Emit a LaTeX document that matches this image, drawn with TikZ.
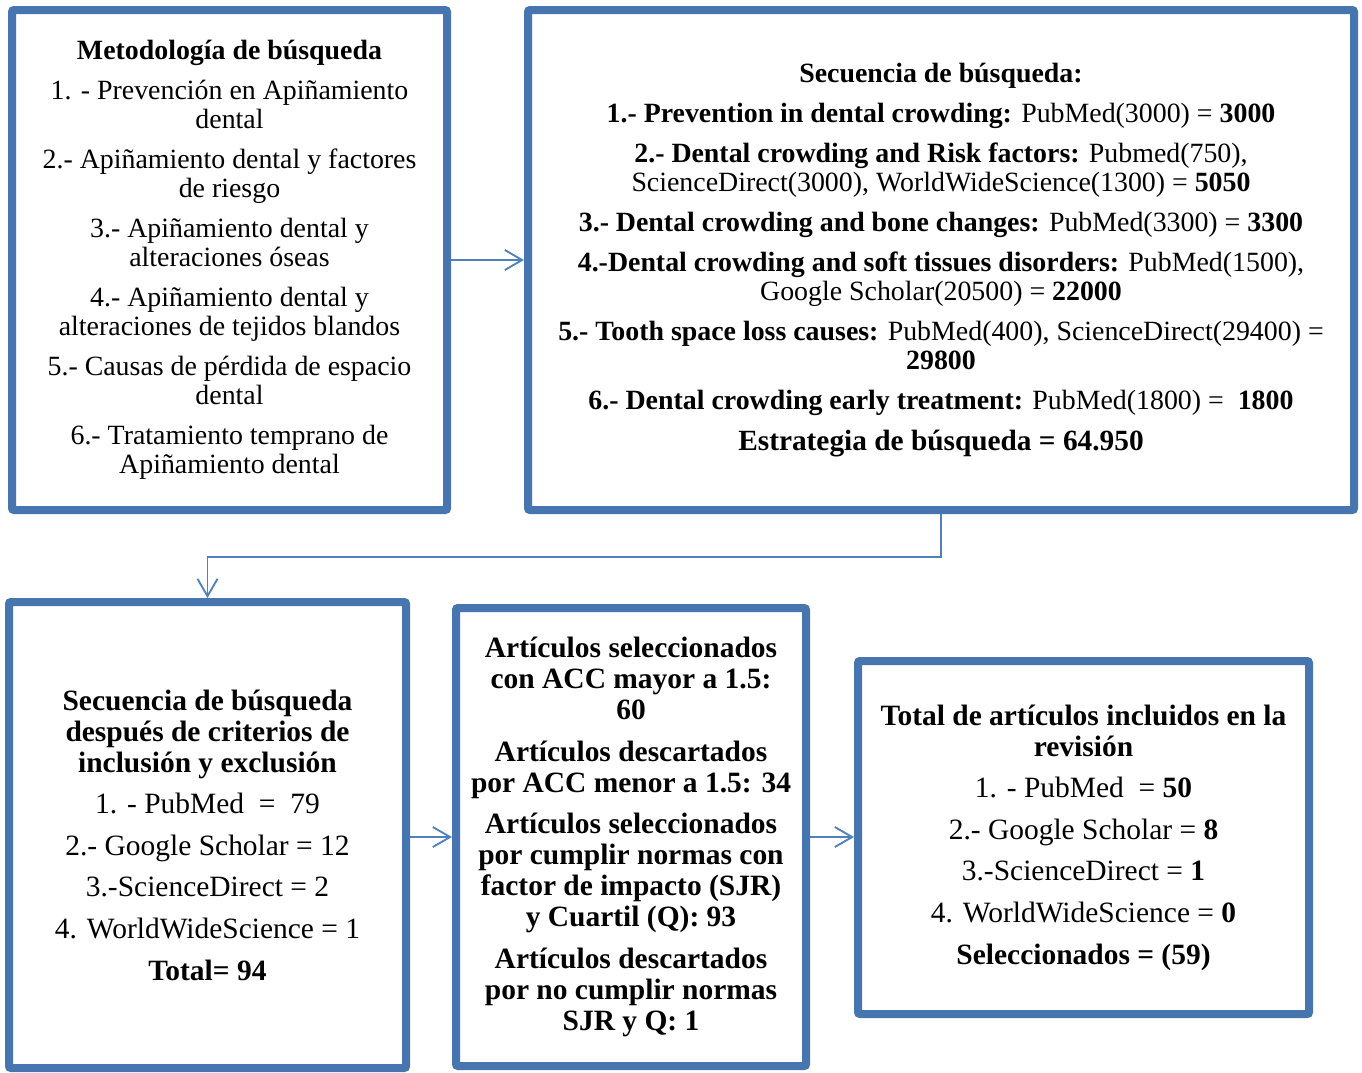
\documentclass[tikz,border=0pt]{standalone}
\usepackage{fontspec}
\setmainfont{Liberation Serif}
\usetikzlibrary{shadows,arrows.meta}
\definecolor{boxblue}{RGB}{70,117,176}
\definecolor{arrblue}{RGB}{79,129,189}
\tikzset{
  flowbox/.style={draw=boxblue, line width=6pt, fill=white, rounded corners=1.5pt,
    align=center, inner sep=0pt,
    drop shadow={opacity=0.35, shadow xshift=2.5pt, shadow yshift=-2.5pt}},
  conn/.style={draw=arrblue, line width=1.4pt, -{Straight Barb[length=13pt,width=15pt,line width=1.4pt]}},
  fsA/.style={font=\fontsize{20.9}{21.9}\selectfont},
  fsB/.style={font=\fontsize{22.1}{23.2}\selectfont},
}
\begin{document}
\begin{tikzpicture}[x=0.75pt,y=-0.75pt]
\useasboundingbox (0,0) rectangle (1362,1072);

\node[flowbox, fsA, minimum width=435*0.75pt, minimum height=500*0.75pt] (b1) at (229.5,260) {%
\textbf{Metodología de búsqueda}\\[8pt]
1. - Prevención en Apiñamiento\\ dental\\[8pt]
2.- Apiñamiento dental y factores\\ de riesgo\\[8pt]
3.- Apiñamiento dental y\\ alteraciones óseas\\[8pt]
4.- Apiñamiento dental y\\ alteraciones de tejidos blandos\\[8pt]
5.- Causas de pérdida de espacio\\ dental\\[8pt]
6.- Tratamiento temprano de\\ Apiñamiento dental};

\node[flowbox, fsA, minimum width=826*0.75pt, minimum height=500*0.75pt] (b2) at (941,260) {%
\textbf{Secuencia de búsqueda:}\\[8pt]
\textbf{1.- Prevention in dental crowding:} PubMed(3000) = \textbf{3000}\\[8pt]
\textbf{2.- Dental crowding and Risk factors:} Pubmed(750),\\ ScienceDirect(3000), WorldWideScience(1300) = \textbf{5050}\\[8pt]
\textbf{3.- Dental crowding and bone changes:} PubMed(3300) = \textbf{3300}\\[8pt]
\textbf{4.-Dental crowding and soft tissues disorders:} PubMed(1500),\\ Google Scholar(20500) = \textbf{22000}\\[8pt]
\textbf{5.- Tooth space loss causes:} PubMed(400), ScienceDirect(29400) =\\ \textbf{29800}\\[8pt]
\textbf{6.- Dental crowding early treatment:} PubMed(1800) = \ \textbf{1800}\\[9pt]
{\fontsize{22}{22}\selectfont\textbf{Estrategia de búsqueda = 64.950}}};

\node[flowbox, fsB, minimum width=397*0.75pt, minimum height=466*0.75pt] (b3) at (207.5,835) {%
\textbf{Secuencia de búsqueda}\\ \textbf{después de criterios de}\\ \textbf{inclusión y exclusión}\\[8pt]
1. - PubMed \ = \ 79\\[8pt]
2.- Google Scholar = 12\\[8pt]
3.-ScienceDirect = 2\\[8pt]
4. WorldWideScience = 1\\[8pt]
\textbf{Total= 94}};

\node[flowbox, fsB, minimum width=350*0.75pt, minimum height=458*0.75pt] (b4) at (631,837) {%
\textbf{Artículos seleccionados}\\ \textbf{con ACC mayor a 1.5:}\\ \textbf{60}\\[8pt]
\textbf{Artículos descartados}\\ \textbf{por ACC menor a 1.5: 34}\\[8pt]
\textbf{Artículos seleccionados}\\ \textbf{por cumplir normas con}\\ \textbf{factor de impacto (SJR)}\\ \textbf{y Cuartil (Q): 93}\\[8pt]
\textbf{Artículos descartados}\\ \textbf{por no cumplir normas}\\ \textbf{SJR y Q: 1}};

\node[flowbox, fsB, minimum width=451*0.75pt, minimum height=353*0.75pt] (b5) at (1083.5,837.5) {%
\textbf{Total de artículos incluidos en la}\\ \textbf{revisión}\\[8pt]
1. - PubMed \ = \textbf{50}\\[8pt]
2.- Google Scholar = \textbf{8}\\[8pt]
3.-ScienceDirect = \textbf{1}\\[8pt]
4. WorldWideScience = \textbf{0}\\[8pt]
\textbf{Seleccionados = (59)}};

\coordinate (c1) at (941,557);
\draw[conn] (b1.east) -- (b2.west);
\draw[conn] (b2.south) -- (c1) -| (b3.north);
\draw[conn] (b3.east |- 0,837) -- (b4.west |- 0,837);
\draw[conn] (b4.east |- 0,837) -- (b5.west |- 0,837);
\end{tikzpicture}
\end{document}
